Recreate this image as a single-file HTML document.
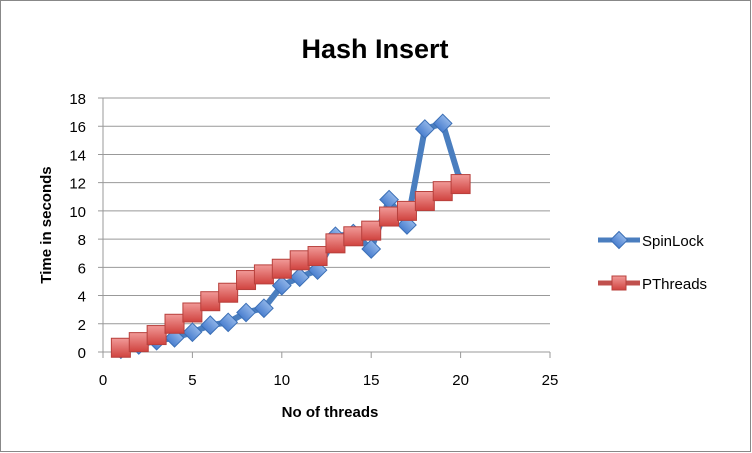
<!DOCTYPE html>
<html><head><meta charset="utf-8"><style>body{margin:0;background:#fff}svg{display:block;font-family:"Liberation Sans",sans-serif}</style></head><body>
<svg id="c" width="752" height="453">
<defs>
<linearGradient id="rg" x1="0" y1="0" x2="0" y2="1"><stop offset="0" stop-color="#f19a98"/><stop offset="1" stop-color="#d0433f"/></linearGradient>
<linearGradient id="bg" x1="0" y1="0" x2="0" y2="1"><stop offset="0" stop-color="#8fb4e8"/><stop offset="1" stop-color="#4a7fcf"/></linearGradient>
</defs>
<rect x="0.5" y="0.5" width="750" height="451" fill="#fff" stroke="#888"/>
<text x="375" y="58" text-anchor="middle" font-size="27" font-weight="bold">Hash Insert</text>
<g id="grid"></g><g id="marks"></g>
<text x="330" y="417" text-anchor="middle" font-size="15" font-weight="bold">No of threads</text>
<text transform="translate(51,225) rotate(-90)" text-anchor="middle" font-size="15" font-weight="bold">Time in seconds</text>
<g>
<g><line x1="598" y1="240" x2="640" y2="240" stroke="#4a7ebf" stroke-width="5"/><rect x="613" y="234" width="12" height="12" transform="rotate(45 619 240)" fill="url(#bg)" stroke="#3b6fb6"/><text x="642" y="246" font-size="15">SpinLock</text></g>
<g><line x1="598" y1="283" x2="640" y2="283" stroke="#c0504d" stroke-width="5"/><rect x="612" y="276" width="14" height="14" fill="url(#rg)" stroke="#b8403c"/><text x="642" y="289" font-size="15">PThreads</text></g>
</g>
</svg>
<script>
const xs=[1,2,3,4,5,6,7,8,9,10,11,12,13,14,15,16,17,18,19,20];
const spin=[0.2,0.5,0.8,1.0,1.4,1.9,2.1,2.8,3.1,4.7,5.3,5.8,8.2,8.4,7.3,10.8,9.0,15.8,16.2,12.0];
const pth=[0.3,0.7,1.2,2.0,2.8,3.6,4.2,5.1,5.5,5.9,6.5,6.8,7.7,8.2,8.6,9.6,10.0,10.7,11.4,11.9];
const yTicks=[0,2,4,6,8,10,12,14,16,18];
const xTicks=[0,5,10,15,20,25];
const X=v=>103+v*(550-103)/25, Y=v=>352-v*(352-98)/18;
const NS="http://www.w3.org/2000/svg";
function mk(t,a,p){const e=document.createElementNS(NS,t);for(const k in a)e.setAttribute(k,a[k]);p.appendChild(e);return e;}
const g=document.getElementById('grid'),m=document.getElementById('marks');
yTicks.forEach(v=>{const l=mk('line',{x1:98,x2:550,y1:Y(v),y2:Y(v),stroke:'#999'},g);


const t=mk('text',{x:86,y:Y(v)+6,'text-anchor':'end','font-size':15},g);t.textContent=v;

});
mk('line',{x1:103,x2:103,y1:98,y2:352,stroke:'#999'},g);
xTicks.forEach(v=>{mk('line',{x1:X(v),x2:X(v),y1:352,y2:358,stroke:'#999'},g);
const t=mk('text',{x:X(v),y:385,'text-anchor':'middle','font-size':15},g);t.textContent=v;

});
const sl=mk('polyline',{points:xs.map((x,i)=>X(x)+','+Y(spin[i])).join(' '),fill:'none',stroke:'#4a7ebf','stroke-width':6,'stroke-linejoin':'round'},m);


const pl=mk('polyline',{points:xs.map((x,i)=>X(x)+','+Y(pth[i])).join(' '),fill:'none',stroke:'#c0504d','stroke-width':6},m);


xs.forEach((x,i)=>{const cx=X(x),cy=Y(spin[i]);
const d=mk('rect',{x:cx-6.5,y:cy-6.5,width:13,height:13,transform:`rotate(45 ${cx} ${cy})`,fill:'url(#bg)',stroke:'#3b6fb6'},m);

});
xs.forEach((x,i)=>{const cx=X(x),cy=Y(pth[i]);
const r=mk('rect',{x:cx-9.5,y:cy-9.5,width:19,height:19,fill:'url(#rg)',stroke:'#b8403c'},m);

});
</script>
</body></html>
